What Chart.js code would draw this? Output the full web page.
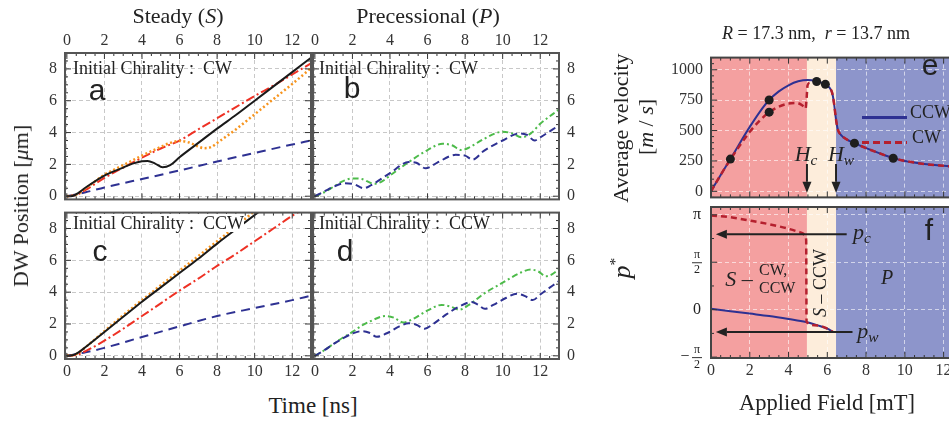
<!DOCTYPE html>
<html>
<head>
<meta charset="utf-8">
<script src="https://cdn.jsdelivr.net/npm/chart.js@4"></script>
<style>
body{margin:0;width:949px;height:422px;overflow:hidden;background:#fff;position:relative;font-family:'Liberation Serif',serif;color:#222}
canvas{position:absolute}
.t{position:absolute;white-space:nowrap;line-height:1;transform:translate(-50%,-50%)}
.l{position:absolute;white-space:nowrap;line-height:1;transform:translateY(-50%)}
.rot{position:absolute;white-space:nowrap;line-height:1;transform:translate(-50%,-50%) rotate(-90deg)}
.sans{font-family:'Liberation Sans',sans-serif}
sub{font-size:70%;vertical-align:-0.25em}
</style>
</head>
<body>
<canvas id="pa"></canvas><canvas id="pb"></canvas><canvas id="pc"></canvas><canvas id="pd"></canvas>
<canvas id="pe"></canvas><canvas id="pf"></canvas>

<div class="t" style="left:178px;top:16px;font-size:22px">Steady (<i>S</i>)</div>
<div class="t" style="left:428px;top:16px;font-size:22px">Precessional (<i>P</i>)</div>
<div class="t" style="left:816px;top:33px;font-size:18px"><i>R</i> = 17.3 nm,&nbsp; <i>r</i> = 13.7 nm</div>
<div class="rot" style="left:21px;top:206px;font-size:22px">DW Position [<i>μ</i>m]</div>
<div class="t" style="left:313px;top:405px;font-size:23px">Time [ns]</div>
<div class="rot" style="left:621px;top:128px;font-size:22px">Average velocity</div>
<div class="rot" style="left:646px;top:127px;font-size:22px">[<i>m</i> / <i>s</i>]</div>
<div class="rot" style="left:621px;top:268px;font-size:26px"><i>p</i><sup style="font-size:60%">*</sup></div>
<div class="t" style="left:827px;top:403px;font-size:22.5px">Applied Field [mT]</div>

<div class="l" style="left:73px;top:68px;font-size:18px">Initial Chirality :&nbsp; CW</div>
<div class="l" style="left:319px;top:68px;font-size:18px">Initial Chirality :&nbsp; CW</div>
<div class="l" style="left:73px;top:223px;font-size:18px;background:#fff">Initial Chirality :&nbsp; CCW</div>
<div class="l" style="left:319px;top:223px;font-size:18px">Initial Chirality :&nbsp; CCW</div>

<div class="t sans" style="left:97px;top:90px;font-size:30px">a</div>
<div class="t sans" style="left:352px;top:88px;font-size:30px">b</div>
<div class="t sans" style="left:100px;top:251px;font-size:30px">c</div>
<div class="t sans" style="left:345px;top:251px;font-size:30px">d</div>
<div class="t sans" style="left:930px;top:65px;font-size:30px">e</div>
<div class="t sans" style="left:929px;top:230px;font-size:30px">f</div>

<div class="t" style="left:806px;top:155px;font-size:22px"><i>H<sub>c</sub></i></div>
<div class="t" style="left:841px;top:155px;font-size:22px"><i>H<sub>w</sub></i></div>
<div class="t" style="left:862px;top:233px;font-size:22px"><i>p<sub>c</sub></i></div>
<div class="t" style="left:868px;top:332px;font-size:22px"><i>p<sub>w</sub></i></div>
<div class="t" style="left:739px;top:279px;font-size:22px"><i>S</i> –</div>
<div class="l" style="left:759px;top:270px;font-size:16px">CW,</div>
<div class="l" style="left:759px;top:288px;font-size:16px">CCW</div>
<div class="rot" style="left:820px;top:283px;font-size:18px"><i>S</i> – CCW</div>
<div class="t" style="left:887px;top:277px;font-size:20px"><i>P</i></div>
<div class="l" style="left:910px;top:112px;font-size:18px">CCW</div>
<div class="l" style="left:912px;top:137px;font-size:18px">CW</div>

<script>
// ---- time axis ticks (ns) and DW position ticks (um)
const timeTicks = [0, 2, 4, 6, 8, 10, 12];
const posTicks = [0, 2, 4, 6, 8];

// a: steady, initial CW
const tA_black = [0, 0.3, 0.6, 1, 2, 3, 3.5, 4, 4.3, 4.7, 5.1, 5.5, 6, 7, 8, 9, 10, 11, 12, 13];
const xA_black = [0, 0.02, 0.2, 0.55, 1.3, 1.8, 2.05, 2.2, 2.22, 2.05, 1.82, 1.95, 2.45, 3.35, 4.25, 5.1, 6.0, 6.9, 7.8, 8.7];
const tA_red = [0, 0.5, 1, 2, 3, 4, 5, 6, 7, 8, 9, 10, 11, 12, 13];
const xA_red = [0, 0.08, 0.4, 1.15, 1.8, 2.42, 3.0, 3.5, 4.2, 4.9, 5.6, 6.3, 6.95, 7.65, 8.35];
const tA_orange = [0, 0.5, 1, 2, 3, 4, 5, 5.5, 6, 6.5, 7, 7.3, 7.7, 8, 9, 10, 11, 12, 13];
const xA_orange = [0, 0.1, 0.5, 1.35, 1.95, 2.55, 3.1, 3.35, 3.47, 3.38, 3.12, 3.02, 3.1, 3.35, 4.2, 5.15, 6.1, 7.05, 8.05];
const tA_blue = [0, 1, 2, 3, 4, 6, 8, 10, 12, 13];
const xA_blue = [0, 0.25, 0.55, 0.82, 1.08, 1.62, 2.18, 2.72, 3.25, 3.5];

// c: steady, initial CCW
const tC_black = [0, 0.3, 0.6, 1, 2, 3, 4, 5, 6, 7, 8, 9, 10, 10.5];
const xC_black = [0, 0.03, 0.2, 0.55, 1.5, 2.45, 3.4, 4.3, 5.2, 6.1, 7.05, 7.95, 8.85, 9.3];
const tC_orange = [0, 0.5, 1, 2, 3, 4, 6, 8, 10, 10.3];
const xC_orange = [0, 0.1, 0.55, 1.55, 2.55, 3.5, 5.35, 7.2, 9.1, 9.4];
const tC_red = [0, 0.5, 1, 2, 3, 4, 5, 6, 7, 8, 9, 10, 11, 12, 13];
const xC_red = [0, 0.05, 0.3, 0.95, 1.7, 2.5, 3.3, 4.1, 4.85, 5.65, 6.4, 7.2, 8.0, 8.8, 9.5];
const tC_blue = [0, 1, 2, 4, 6, 8, 10, 12, 13];
const xC_blue = [0, 0.22, 0.5, 1.18, 1.85, 2.5, 3.0, 3.5, 3.78];

// b: precessional, initial CW
const tB_green = [0, 0.5, 1, 1.5, 2, 2.5, 3, 3.2, 3.6, 4, 5, 6, 6.8, 7.3, 7.8, 8.2, 9, 10, 10.5, 11, 11.5, 12, 13];
const xB_green = [0, 0.25, 0.6, 0.95, 1.12, 1.08, 0.82, 0.78, 0.95, 1.3, 2.15, 2.9, 3.3, 3.2, 2.9, 3.05, 3.6, 4.05, 3.95, 3.7, 3.95, 4.55, 5.45];
const tB_blue = [0, 0.5, 1, 1.6, 2.1, 2.6, 3, 4, 5, 5.4, 5.9, 6.5, 7.5, 8, 8.4, 9, 10, 10.9, 11.3, 11.7, 12, 13];
const xB_blue = [0, 0.3, 0.6, 0.82, 0.75, 0.5, 0.7, 1.45, 2.15, 2.1, 1.75, 2.1, 2.6, 2.55, 2.3, 2.85, 3.5, 3.95, 3.85, 3.5, 3.7, 4.45];

// d: precessional, initial CCW
const tD_green = [0, 0.5, 1, 1.5, 2, 2.5, 3, 3.5, 3.8, 4.2, 4.7, 5.2, 6, 6.75, 7.2, 7.7, 8.2, 9, 10, 11, 11.5, 11.9, 12.3, 12.6, 13];
const xD_green = [0, 0.35, 0.75, 1.15, 1.5, 1.9, 2.2, 2.45, 2.5, 2.4, 2.1, 2.3, 2.85, 3.2, 3.1, 2.9, 3.2, 3.9, 4.6, 5.25, 5.42, 5.3, 5.0, 5.1, 5.45];
const tD_blue = [0, 0.5, 1, 1.5, 2, 2.5, 2.9, 3.3, 3.8, 4.5, 5, 5.4, 5.85, 6.3, 7, 7.7, 8.35, 8.7, 9.05, 9.5, 10.2, 10.75, 11.2, 11.6, 12, 13];
const xD_blue = [0, 0.35, 0.75, 1.1, 1.4, 1.55, 1.45, 1.2, 1.4, 1.85, 2.05, 1.95, 1.7, 2.0, 2.6, 3.1, 3.38, 3.2, 2.95, 3.2, 3.65, 3.9, 3.75, 3.5, 3.85, 4.7];

// e: average velocity vs applied field
const fieldTicks = [0, 2, 4, 6, 8, 10, 12];
const velTicks = [0, 250, 500, 750, 1000];
const hE_ccw = [0, 0.5, 1, 1.5, 2, 2.5, 3, 3.5, 4, 4.5, 5, 5.45, 5.9, 6.1, 6.25, 6.35, 6.45, 6.55, 6.7, 7, 7.4, 8, 9, 9.4, 10, 11, 12, 13];
const vE_ccw = [0, 135, 265, 400, 530, 650, 751, 822, 872, 905, 916, 905, 880, 855, 810, 720, 590, 505, 465, 427, 396, 355, 295, 273, 250, 225, 210, 198];
const hE_cw = [0, 0.5, 1, 1.5, 2, 2.5, 3, 3.5, 4, 4.4, 4.7, 4.88, 4.93, 4.98, 5.1, 5.45, 5.9, 6.1, 6.25, 6.35, 6.45, 6.55, 6.7, 7, 7.4, 8, 9, 9.4, 10, 11, 12, 13];
const vE_cw = [0, 135, 262, 380, 490, 580, 651, 697, 722, 727, 708, 680, 760, 870, 895, 902, 880, 855, 810, 720, 590, 505, 465, 427, 396, 355, 295, 273, 250, 225, 210, 198];
const hE_dots = [1, 3, 3, 5.45, 5.9, 7.4, 9.4];
const vE_dots = [265, 751, 651, 903, 880, 396, 272];

// f: p* vs applied field
const halfPi = Math.PI / 2;
const pTicks = [-halfPi, 0, halfPi, Math.PI];
const hF_ccw = [0, 1, 2, 3, 4, 4.9, 5.5, 6, 6.3];
const pF_ccw = [0.03, -0.05, -0.13, -0.21, -0.31, -0.41, -0.52, -0.63, -0.74];
const hF_cw = [0, 1, 2, 3, 3.88, 4.5, 4.75, 4.86, 4.91, 4.93, 5.5, 6, 6.3];
const pF_cw = [3.12, 3.06, 2.95, 2.83, 2.7, 2.58, 2.52, 2.44, 2.3, -0.41, -0.52, -0.63, -0.74];

// regime boundaries (mT) and annotations
const regimeEdges = [0, 4.95, 6.45, 13];
const hc = 4.95, hw = 6.45;
const pc = 2.5, pw = -0.74;

const xy = (xs, ys) => xs.map((v, i) => ({ x: v, y: ys[i] }));
const serif = 'Liberation Serif';
const tickFont = { family: serif, size: 16 };

function line(data, color, dash, width) {
  return { data, borderColor: color, borderDash: dash, borderWidth: width || 2, showLine: true,
    pointRadius: 0, cubicInterpolationMode: 'monotone', fill: false };
}

function arrow(ctx, x0, y0, x1, y1) {
  const ang = Math.atan2(y1 - y0, x1 - x0), hl = 11, hw2 = 4.5;
  ctx.beginPath();
  ctx.moveTo(x0, y0);
  ctx.lineTo(x1 - Math.cos(ang) * hl, y1 - Math.sin(ang) * hl);
  ctx.stroke();
  ctx.beginPath();
  ctx.moveTo(x1, y1);
  ctx.lineTo(x1 - Math.cos(ang) * hl - Math.sin(ang) * hw2, y1 - Math.sin(ang) * hl + Math.cos(ang) * hw2);
  ctx.lineTo(x1 - Math.cos(ang) * hl + Math.sin(ang) * hw2, y1 - Math.sin(ang) * hl - Math.cos(ang) * hw2);
  ctx.closePath();
  ctx.fill();
}

function framePlugin(cfg) {
  return {
    id: 'frame',
    beforeDraw(chart) {
      if (!cfg.bands) return;
      const { ctx, chartArea: a, scales: { x } } = chart;
      ctx.save();
      for (let i = 0; i < cfg.bands.length - 1; i++) {
        const x0 = Math.max(a.left, x.getPixelForValue(cfg.bands[i]));
        const x1 = Math.min(a.right, x.getPixelForValue(cfg.bands[i + 1]));
        ctx.fillStyle = cfg.bandColors[i];
        ctx.fillRect(x0, a.top, x1 - x0, a.bottom - a.top);
      }
      ctx.restore();
    },
    afterDraw(chart) {
      const { ctx, chartArea: a, scales: { x, y } } = chart;
      ctx.save();
      ctx.strokeStyle = '#222';
      ctx.fillStyle = '#222';
      ctx.lineWidth = 2;
      (cfg.arrows || []).forEach(r => {
        arrow(ctx, x.getPixelForValue(r[0]), y.getPixelForValue(r[1]), x.getPixelForValue(r[2]), y.getPixelForValue(r[3]));
      });
      if (cfg.legend) {
        cfg.legend.forEach(g => {
          ctx.strokeStyle = g.color;
          ctx.lineWidth = 3;
          ctx.setLineDash(g.dash);
          ctx.beginPath();
          ctx.moveTo(a.left + 151, a.top + g.dy);
          ctx.lineTo(a.left + 196, a.top + g.dy);
          ctx.stroke();
        });
        ctx.setLineDash([]);
      }
      // inward ticks on all four sides
      ctx.strokeStyle = '#333';
      ctx.lineWidth = 1;
      const xv = [], yv = [];
      for (let v = Math.ceil(x.min / cfg.xMinor) * cfg.xMinor; v <= x.max + 1e-9; v += cfg.xMinor) xv.push(v);
      for (let v = Math.ceil(y.min / cfg.yMinor) * cfg.yMinor; v <= y.max + 1e-9; v += cfg.yMinor) yv.push(v);
      const isMajor = (v, step) => Math.abs(v / step - Math.round(v / step)) < 1e-6;
      ctx.beginPath();
      xv.forEach(v => {
        const p = x.getPixelForValue(v), len = isMajor(v, cfg.xMajor) ? 6 : 3;
        ctx.moveTo(p, a.top); ctx.lineTo(p, a.top + len);
        ctx.moveTo(p, a.bottom); ctx.lineTo(p, a.bottom - len);
      });
      yv.forEach(v => {
        const p = y.getPixelForValue(v), len = isMajor(v, cfg.yMajor) ? 6 : 3;
        ctx.moveTo(a.left, p); ctx.lineTo(a.left + len, p);
        ctx.moveTo(a.right, p); ctx.lineTo(a.right - len, p);
      });
      ctx.stroke();
      if (cfg.piLabels) {
        ctx.fillStyle = '#222';
        ctx.textAlign = 'center';
        ctx.textBaseline = 'middle';
        const cx = a.left - 14;
        const frac = (v, minus) => {
          const p = y.getPixelForValue(v);
          ctx.font = '12px ' + serif;
          ctx.fillText('π', cx, p - 7);
          ctx.fillText('2', cx, p + 8);
          ctx.beginPath(); ctx.moveTo(cx - 5, p + 0.5); ctx.lineTo(cx + 5, p + 0.5); ctx.stroke();
          if (minus) { ctx.font = '16px ' + serif; ctx.fillText('−', cx - 12, p); }
        };
        ctx.font = '16px ' + serif;
        ctx.fillText('π', cx, y.getPixelForValue(Math.PI));
        ctx.fillText('0', cx, y.getPixelForValue(0));
        frac(halfPi, false);
        frac(-halfPi, true);
      }
      ctx.lineWidth = 2;
      ctx.strokeStyle = cfg.frameColor || '#555';
      ctx.strokeRect(a.left, a.top, a.right - a.left, a.bottom - a.top);
      ctx.restore();
    }
  };
}

function makeChart(id, box, m, xs, ys, datasets, cfg) {
  const cv = document.getElementById(id);
  const w = box.R - box.L + m.l + m.r, h = box.B - box.T + m.t + m.b;
  cv.width = w; cv.height = h;
  cv.style.left = (box.L - m.l) + 'px';
  cv.style.top = (box.T - m.t) + 'px';
  cv.style.width = w + 'px';
  cv.style.height = h + 'px';
  const gridColor = cfg.gridColor || '#c8c8c8';
  const axis = (s, size) => ({
    type: 'linear', position: s.position, min: s.min, max: s.max,
    afterBuildTicks: sc => { sc.ticks = s.ticks.map(v => ({ value: v })); },
    afterFit: sc => { if (sc.isHorizontal()) sc.height = size; else sc.width = size; },
    grid: { color: gridColor, drawTicks: false, lineWidth: 1 },
    border: { display: false, dash: [4, 3] },
    ticks: { display: s.labels, font: tickFont, color: '#333', padding: s.pad, maxRotation: 0, autoSkip: false,
             callback: v => String(v) }
  });
  return new Chart(cv, {
    type: 'scatter',
    data: { datasets },
    options: {
      responsive: false, animation: false, events: [], devicePixelRatio: 1,
      layout: { padding: {
        left: ys.position === 'left' ? 0 : m.l, right: ys.position === 'right' ? 0 : m.r,
        top: xs.position === 'top' ? 0 : m.t, bottom: xs.position === 'bottom' ? 0 : m.b } },
      plugins: { legend: { display: false }, tooltip: { enabled: false } },
      scales: {
        x: axis(xs, xs.position === 'top' ? m.t : m.b),
        y: axis(ys, ys.position === 'left' ? m.l : m.r)
      }
    },
    plugins: [framePlugin(cfg)]
  });
}

const C = { black: '#1a1a1a', red: '#ee3124', orange: '#f7941d', navy: '#2e3192', green: '#4dbb4a', dkred: '#b5202e' };
const timeAxis = (pos, labels) => ({ position: pos, min: -0.1, max: 13, ticks: timeTicks, labels, pad: 3 });
const posAxis = (pos, labels) => ({ position: pos, min: -0.2, max: 9, ticks: posTicks, labels, pad: 8 });
const tcfg = { xMinor: 0.5, xMajor: 2, yMinor: 0.5, yMajor: 2 };

makeChart('pa', { L: 65, T: 53, R: 311, B: 205 }, { l: 40, t: 28, r: 12, b: 12 },
  timeAxis('top', true), posAxis('left', true), [
    line(xy(tA_black, xA_black), C.black, [], 2),
    line(xy(tA_orange, xA_orange), C.orange, [2, 2.5], 2.5),
    line(xy(tA_red, xA_red), C.red, [9, 3, 2, 3], 2),
    line(xy(tA_blue, xA_blue), C.navy, [9, 6], 2)
  ], tcfg);

makeChart('pb', { L: 313, T: 53, R: 559, B: 205 }, { l: 12, t: 28, r: 30, b: 12 },
  timeAxis('top', true), posAxis('right', true), [
    line(xy(tB_blue, xB_blue), C.navy, [7, 4], 2),
    line(xy(tB_green, xB_green), C.green, [6, 3, 2, 3], 2)
  ], tcfg);

makeChart('pc', { L: 65, T: 207, R: 311, B: 359 }, { l: 40, t: 12, r: 12, b: 24 },
  timeAxis('bottom', true), posAxis('left', true), [
    line(xy(tC_black, xC_black), C.black, [], 2),
    line(xy(tC_orange, xC_orange), C.orange, [2, 2.5], 2.5),
    line(xy(tC_red, xC_red), C.red, [9, 3, 2, 3], 2),
    line(xy(tC_blue, xC_blue), C.navy, [9, 6], 2)
  ], tcfg);

makeChart('pd', { L: 313, T: 207, R: 559, B: 359 }, { l: 12, t: 12, r: 30, b: 24 },
  timeAxis('bottom', true), posAxis('right', true), [
    line(xy(tD_blue, xD_blue), C.navy, [7, 4], 2),
    line(xy(tD_green, xD_green), C.green, [6, 3, 2, 3], 2)
  ], tcfg);

const bandColors = ['#f4a0a0', '#fdeddb', '#8d95cb'];
const fieldGrid = 'rgba(255,255,255,0.6)';

makeChart('pe', { L: 711, T: 52, R: 963, B: 203 }, { l: 45, t: 12, r: 12, b: 12 },
  { position: 'bottom', min: 0, max: 13, ticks: fieldTicks, labels: false, pad: 3 },
  { position: 'left', min: -50, max: 1100, ticks: velTicks, labels: true, pad: 8 }, [
    { data: xy(hE_dots, vE_dots), pointRadius: 4.5, pointBackgroundColor: '#1e1e1e', pointBorderWidth: 0, showLine: false },
    line(xy(hE_cw, vE_cw), C.dkred, [6, 4], 2.5),
    line(xy(hE_ccw, vE_ccw), C.navy, [], 2)
  ], { xMinor: 0.5, xMajor: 2, yMinor: 50, yMajor: 250, bands: regimeEdges, bandColors, gridColor: fieldGrid,
       frameColor: '#444',
       arrows: [[hc, 225, hc, -12], [hw, 225, hw, -12]],
       legend: [{ color: C.navy, dash: [], dy: 60 }, { color: C.dkred, dash: [7, 4], dy: 85 }] });

makeChart('pf', { L: 711, T: 207, R: 963, B: 358 }, { l: 45, t: 12, r: 12, b: 26 },
  { position: 'bottom', min: 0, max: 13, ticks: fieldTicks, labels: true, pad: 3 },
  { position: 'left', min: -1.6, max: 3.4, ticks: pTicks, labels: false, pad: 8 }, [
    line(xy(hF_cw, pF_cw), C.dkred, [6, 4], 2.5),
    line(xy(hF_ccw, pF_ccw), C.navy, [], 2)
  ], { xMinor: 0.5, xMajor: 2, yMinor: Math.PI / 4, yMajor: halfPi, bands: regimeEdges, bandColors, gridColor: fieldGrid,
       frameColor: '#444', piLabels: true,
       arrows: [[7.0, pc, 0.25, pc], [7.3, pw, 0.25, pw]] });
</script>
</body>
</html>
